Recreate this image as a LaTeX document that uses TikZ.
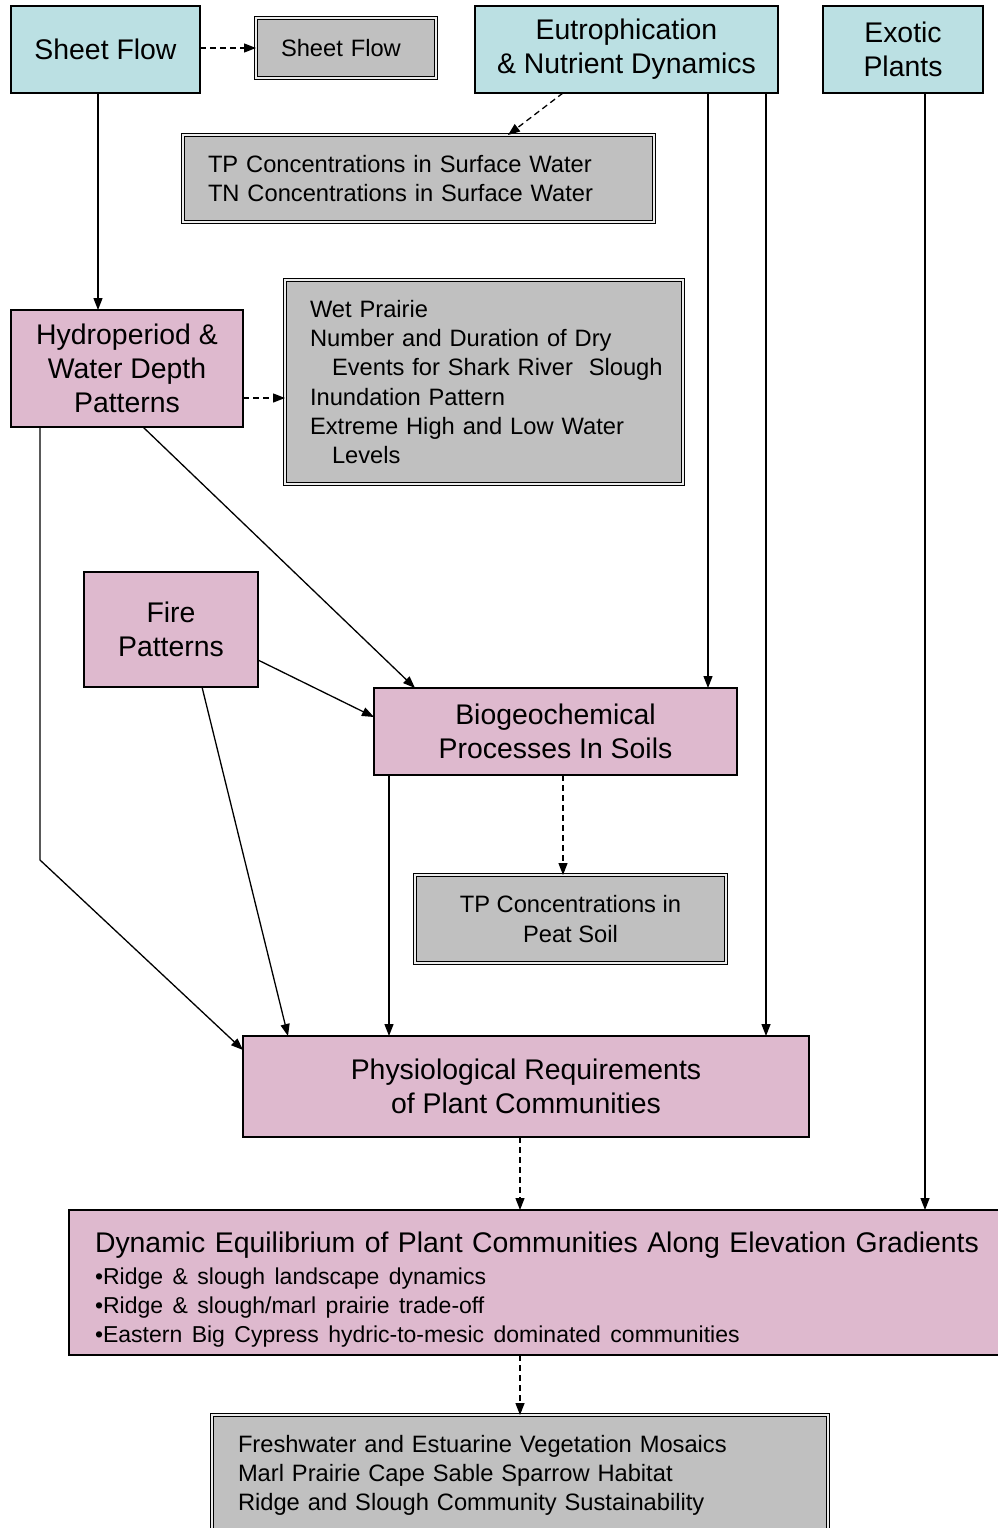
\documentclass[tikz,border=0pt]{standalone}
\usepackage{fontspec}
\setmainfont{Liberation Sans}
\usetikzlibrary{arrows.meta}
\definecolor{cyanbox}{HTML}{BBE0E3}
\definecolor{pinkbox}{HTML}{DEB9CE}
\definecolor{graybox}{HTML}{C0C0C0}
\begin{document}
\begin{tikzpicture}[x=1pt,y=-1pt,
  box/.style={draw=black, line width=1.3pt, inner sep=0pt, outer sep=0pt,
    align=center, font=\fontsize{28.4}{34}\selectfont},
  driver/.style={box, fill=cyanbox},
  process/.style={box, fill=pinkbox},
  measure/.style={draw=black, line width=1.2pt, double=graybox!30!white,
    double distance=1.5pt, fill=graybox, inner ysep=0pt, outer sep=0pt,
    font=\fontsize{23.7}{29.2}\selectfont},
  link/.style={line width=1.3pt, -{Triangle[length=12pt,width=9pt]}},
  dlink/.style={link, dash pattern=on 6pt off 4pt}
]
\useasboundingbox (0,0) rectangle (997,1528);
\fill[white] (0,0) rectangle (997,1528);

% drivers
\node[driver, minimum width=189pt, minimum height=87pt] (sheet) at (105.5,49.5) {Sheet Flow};
\node[driver, minimum width=303pt, minimum height=87pt] (eutro) at (626.5,49.5) {Eutrophication\\\& Nutrient Dynamics};
\node[driver, minimum width=160pt, minimum height=87pt] (exotic) at (903,49.5) {Exotic\\Plants};

% measures
\node[measure, align=left, inner xsep=25pt, text width=130pt, minimum height=60pt] (sheetm) at (346,48) {\mbox{Sheet Flow}};
\node[measure, align=left, inner xsep=25pt, text width=421pt, minimum height=87pt] (tps) at (418.5,178.5)
  {\mbox{TP Concentrations in Surface Water}\\\mbox{TN Concentrations in Surface Water}};
\node[measure, align=left, inner xsep=25pt, text width=348pt, minimum height=204pt] (wet) at (484,382)
  {\mbox{Wet Prairie}\\\mbox{Number and Duration of Dry}\\\mbox{\hspace*{22pt}Events for Shark River\ \ Slough}\\\mbox{Inundation Pattern}\\\mbox{Extreme High and Low Water}\\\mbox{\hspace*{22pt}Levels}};
\node[measure, align=center, inner xsep=0pt, minimum width=311pt, minimum height=88pt] (peat) at (570.5,919)
  {TP Concentrations in\\Peat Soil};
\node[measure, align=left, inner xsep=26pt, text width=564pt, minimum height=121pt] (bottom) at (520,1475.5)
  {\mbox{Freshwater and Estuarine Vegetation Mosaics}\\\mbox{Marl Prairie Cape Sable Sparrow Habitat}\\\mbox{Ridge and Slough Community Sustainability}};

% processes
\node[process, minimum width=232pt, minimum height=117pt] (hydro) at (127,368.5) {Hydroperiod \&\\Water Depth\\Patterns};
\node[process, minimum width=174pt, minimum height=115pt] (fire) at (171,629.5) {Fire\\Patterns};
\node[process, minimum width=363pt, minimum height=87pt] (bio) at (555.5,731.5) {Biogeochemical\\Processes In Soils};
\node[process, minimum width=566pt, minimum height=101pt] (phys) at (526,1086.5) {Physiological Requirements\\of Plant Communities};
\node[process, align=left, inner xsep=26pt, text width=882pt, minimum height=145pt] (dyn) at (536,1282.5)
  {\mbox{\rule{0pt}{34pt}Dynamic Equilibrium of Plant Communities Along Elevation Gradients}\\[3pt]
   {\fontsize{23}{29}\selectfont \mbox{•Ridge \& slough landscape dynamics}\\
   \mbox{•Ridge \& slough/marl prairie trade-off}\\
   \mbox{•Eastern Big Cypress hydric-to-mesic dominated communities}\par}};

% connectors
\coordinate (bend) at (40,860);
\draw[dlink] (sheet.east |- sheetm.west) -- (sheetm.west);
\draw[link] (98,0 |- sheet.south) -- (98,0 |- hydro.north);
\draw[dlink] (563,0 |- eutro.south) -- (508,0 |- tps.north);
\draw[link] (708,0 |- eutro.south) -- (708,0 |- bio.north);
\draw[link] (766,0 |- eutro.south) -- (766,0 |- phys.north);
\draw[link] (925,0 |- exotic.south) -- (925,0 |- dyn.north);
\draw[dlink] (hydro.east |- 0,398) -- (wet.west |- 0,398);
\draw[link] (143,0 |- hydro.south) -- (415,0 |- bio.north);
\draw[link] (40,0 |- hydro.south) -- (bend) -- (phys.west |- 0,1050);
\draw[link] (fire.east |- 0,660) -- (bio.west |- 0,717);
\draw[link] (202,0 |- fire.south) -- (288,0 |- phys.north);
\draw[dlink] (563,0 |- bio.south) -- (563,0 |- peat.north);
\draw[link] (389,0 |- bio.south) -- (389,0 |- phys.north);
\draw[dlink] (520,0 |- phys.south) -- (520,0 |- dyn.north);
\draw[dlink] (520,0 |- dyn.south) -- (520,0 |- bottom.north);
\end{tikzpicture}
\end{document}
